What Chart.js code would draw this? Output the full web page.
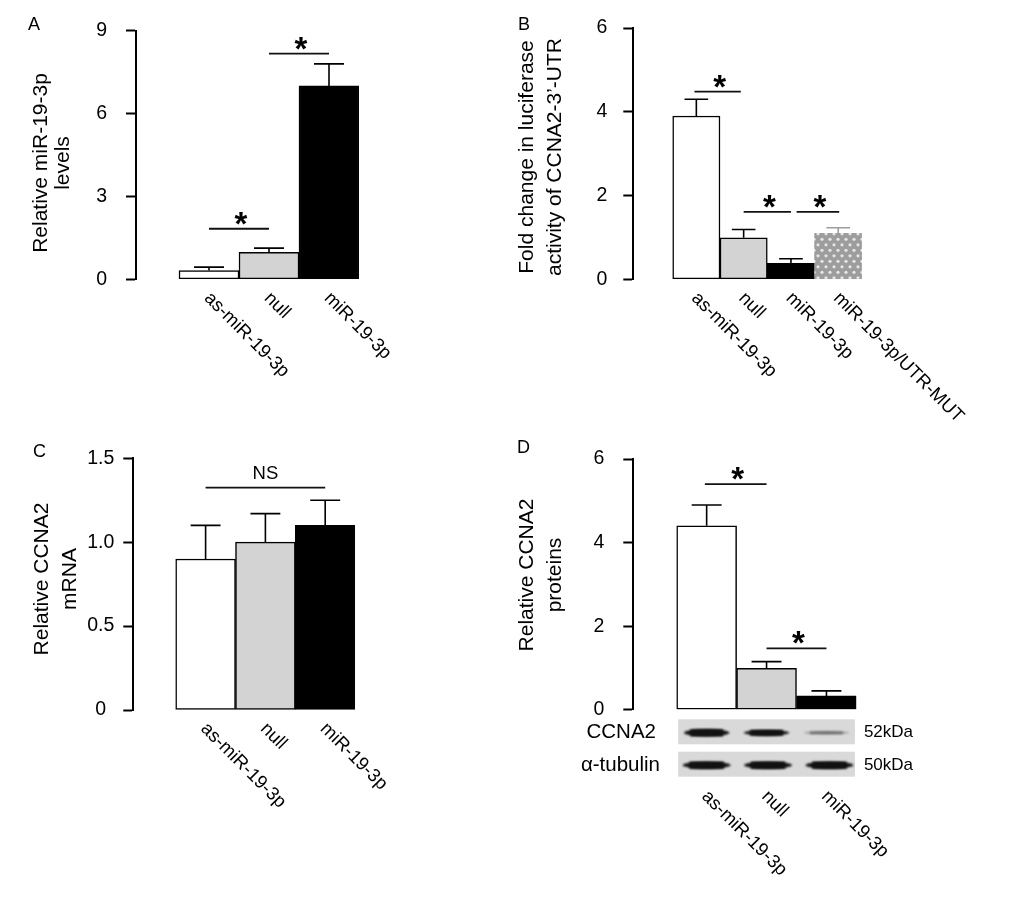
<!DOCTYPE html>
<html>
<head>
<meta charset="utf-8">
<script src="https://cdn.jsdelivr.net/npm/chart.js@4.4.0/dist/chart.umd.min.js"></script>
<style>
  html, body { margin: 0; padding: 0; background: #fff; overflow: hidden; }
  #page { position: relative; width: 1020px; height: 909px; }
  #page canvas { position: absolute; left: 0; top: 0; }
</style>
</head>
<body>
<div id="page"></div>
<script>
/* ================= Data ================= */

const groups3 = ['as-miR-19-3p', 'null', 'miR-19-3p'];
const groups4 = ['as-miR-19-3p', 'null', 'miR-19-3p', 'miR-19-3p/UTR-MUT'];

// A: relative miR-19-3p levels
const mirLevels = [0.32, 0.98, 7.0];
const mirLevelsErr = [0.12, 0.15, 0.8];
const mirTicks = [0, 3, 6, 9];
const mirTickLabels = ['0', '3', '6', '9'];

// B: luciferase activity of CCNA2-3'-UTR
const luciferase = [3.9, 0.99, 0.38, 1.1];
const luciferaseErr = [0.4, 0.2, 0.11, 0.13];
const luciferaseTicks = [0, 2, 4, 6];
const luciferaseTickLabels = ['0', '2', '4', '6'];

// C: relative CCNA2 mRNA
const mrna = [0.9, 1.0, 1.1];
const mrnaErr = [0.2, 0.17, 0.15];
const mrnaTicks = [0, 0.5, 1.0, 1.5];
const mrnaTickLabels = ['0', '0.5', '1.0', '1.5'];

// D: relative CCNA2 proteins
const protein = [4.4, 0.99, 0.33];
const proteinErr = [0.5, 0.16, 0.12];
const proteinTicks = [0, 2, 4, 6];
const proteinTickLabels = ['0', '2', '4', '6'];

// western blot band strength per lane (0..1)
const blotCCNA2 = [1.0, 0.72, 0.1];
const blotTubulin = [1.0, 1.0, 1.0];

// significance marks: [from group, to group, height, text]
const sigA = [[0, 1, 1.83, '*'], [1, 2, 8.17, '*']];
const sigB = [[-0.04, 0.94, 4.48, '*'], [1, 2, 1.61, '*'], [2.12, 3.02, 1.61, '*']];
const sigC = [[0, 2, 1.325, 'NS']];
const sigD = [[-0.03, 1, 5.4, '*'], [1, 2, 1.47, '*']];

/* ================= Helpers ================= */

const FONT = '"Liberation Sans", Arial, Helvetica, sans-serif';
Chart.defaults.font.family = FONT;
Chart.defaults.color = '#000';

const WHITE = '#ffffff', GREY = '#d3d3d3', BLACK = '#000000';

function dotPattern() {
  const tile = document.createElement('canvas');
  tile.width = 8; tile.height = 11;
  const t = tile.getContext('2d');
  t.fillStyle = '#9d9d9d';
  t.fillRect(0, 0, 8, 11);
  t.fillStyle = '#e6e6e6';
  [[2, 2.8], [6, 8.3]].forEach(([cx, cy]) => {
    t.beginPath(); t.arc(cx, cy, 1.6, 0, Math.PI * 2); t.fill();
  });
  return t.createPattern(tile, 'repeat');
}

function extrasPlugin(p) {
  return {
    id: 'extras',
    afterDatasetsDraw(chart) {
      const { ctx, scales: { x, y }, chartArea } = chart;
      const unit = x.getPixelForValue(1) - x.getPixelForValue(0);
      ctx.save();

      // error bars (upper only)
      ctx.lineWidth = 1.6;
      p.values.forEach((v, i) => {
        const cx = x.getPixelForValue(i);
        const y0 = y.getPixelForValue(v);
        const y1 = y.getPixelForValue(v + p.errors[i]);
        ctx.strokeStyle = (p.errColors && p.errColors[i]) || '#000';
        ctx.beginPath();
        ctx.moveTo(cx, y0); ctx.lineTo(cx, y1);
        ctx.moveTo(cx - unit * 0.25, y1); ctx.lineTo(cx + unit * 0.25, y1);
        ctx.stroke();
      });

      // significance lines
      ctx.strokeStyle = '#111';
      ctx.fillStyle = '#000';
      ctx.lineWidth = 1.8;
      p.sig.forEach(([a, b, h, txt]) => {
        const x0 = x.getPixelForValue(a), x1 = x.getPixelForValue(b);
        const yy = y.getPixelForValue(h);
        ctx.beginPath(); ctx.moveTo(x0, yy); ctx.lineTo(x1, yy); ctx.stroke();
        ctx.textAlign = 'center';
        ctx.textBaseline = 'alphabetic';
        if (txt === '*') {
          ctx.font = 'bold 33px ' + FONT;
          ctx.fillText(txt, (x0 + x1) / 2 + 2, yy + 6);
        } else {
          ctx.font = '18.5px ' + FONT;
          ctx.fillText(txt, (x0 + x1) / 2, yy - 8.5);
        }
      });

      // western blot under the bars
      let labelY = chartArea.bottom + 16;
      if (p.blot) {
        const bx0 = x.getPixelForValue(-0.5) + 1.5;
        const bx1 = x.getPixelForValue(p.values.length - 0.5) - 1.5;
        p.blot.forEach((row, r) => {
          const top = chartArea.bottom + 9.6 + r * 32.4;
          ctx.fillStyle = '#d9d9d9';
          ctx.fillRect(bx0, top, bx1 - bx0, 25);
          const mid = top + 13.5;
          ctx.save();
          ctx.filter = 'blur(1px)';
          row.values.forEach((s, i) => {
            const cx = x.getPixelForValue(i) + (r === 1 ? i * 1.5 : 0);
            const w = unit * (r === 1 ? 0.8 : 0.76);
            const h = 2.5 + 4.5 * s;
            ctx.fillStyle = 'rgba(18,18,18,' + Math.min(1, 0.25 + s) + ')';
            ctx.beginPath();
            ctx.ellipse(cx, mid, w / 2, h / 2, 0, 0, Math.PI * 2);
            ctx.fill();
            ctx.fillRect(cx - w * 0.36, mid - h / 2, w * 0.72, h);
          });
          ctx.restore();
          ctx.fillStyle = '#000';
          ctx.textBaseline = 'middle';
          ctx.textAlign = 'right';
          ctx.font = '20.5px ' + FONT;
          ctx.fillText(row.name, row.nameRight, mid);
          ctx.textAlign = 'left';
          ctx.font = '17px ' + FONT;
          ctx.fillText(row.size, bx1 + 9, mid);
          labelY = top + 25 + 17;
        });
      }

      // rotated category labels (clockwise, starting under each bar)
      ctx.fillStyle = '#000';
      ctx.font = '18.5px ' + FONT;
      ctx.textAlign = 'left';
      ctx.textBaseline = 'middle';
      p.labels.forEach((lab, i) => {
        ctx.save();
        ctx.translate(x.getPixelForValue(i) - 2, labelY);
        ctx.rotate(Math.PI / 4);
        ctx.fillText(lab, 0, 0);
        ctx.restore();
      });

      // y axis title
      ctx.font = '21px ' + FONT;
      ctx.textAlign = 'center';
      ctx.textBaseline = 'middle';
      p.title.forEach((line, k) => {
        ctx.save();
        ctx.translate(p.titleX[k], p.titleY);
        ctx.rotate(-Math.PI / 2);
        ctx.fillText(line, 0, 0);
        ctx.restore();
      });

      // panel letter
      ctx.font = '18px ' + FONT;
      ctx.textAlign = 'left';
      ctx.textBaseline = 'alphabetic';
      ctx.fillText(p.letter, p.letterPos[0], p.letterPos[1]);
      ctx.restore();
    }
  };
}

function makePanel(p) {
  const canvas = document.createElement('canvas');
  canvas.width = 1020; canvas.height = 909;
  document.getElementById('page').appendChild(canvas);

  const n = p.values.length;
  const xmin = -0.5 - p.gap / p.unit;
  const xmax = n - 0.5;
  const right = p.axisX + (xmax - xmin) * p.unit;
  const ticks = p.ticks;

  return new Chart(canvas, {
    type: 'bar',
    data: {
      datasets: [{
        data: p.values.map((v, i) => ({ x: i, y: v })),
        backgroundColor: p.colors,
        borderColor: p.borderColors,
        borderWidth: p.borderWidths,
        borderSkipped: false,
        barPercentage: 1,
        categoryPercentage: 1
      }]
    },
    options: {
      responsive: false,
      animation: false,
      events: [],
      layout: {
        padding: { left: p.axisX - 80, right: 1020 - right, top: p.top, bottom: 909 - p.bottom }
      },
      plugins: { legend: { display: false }, tooltip: { enabled: false } },
      scales: {
        x: {
          type: 'linear', display: false, offset: false,
          min: xmin, max: xmax,
          afterBuildTicks: s => { s.ticks = []; }
        },
        y: {
          min: ticks[0], max: ticks[ticks.length - 1],
          afterBuildTicks: s => { s.ticks = ticks.map(v => ({ value: v })); },
          afterFit: s => { s.width = 80; },
          grid: { drawOnChartArea: false, drawTicks: true, tickLength: 10, tickWidth: 2, tickColor: '#000' },
          border: { display: true, color: '#000', width: 2 },
          ticks: {
            color: '#000',
            font: { size: 19.5, family: FONT },
            padding: p.tickPad,
            crossAlign: 'center',
            callback: (v, i) => p.tickLabels[i]
          }
        }
      }
    },
    plugins: [extrasPlugin(p)]
  });
}

/* ================= Panels ================= */

makePanel({
  letter: 'A', letterPos: [28, 30],
  values: mirLevels, errors: mirLevelsErr, labels: groups3, sig: sigA,
  ticks: mirTicks, tickLabels: mirTickLabels, tickPad: 19,
  colors: [WHITE, GREY, BLACK], borderColors: BLACK, borderWidths: 1.5,
  axisX: 136, gap: 43, unit: 60, top: 28, bottom: 279.3,
  title: ['Relative miR-19-3p', 'levels'], titleX: [41.7, 63.3], titleY: 163
});

makePanel({
  letter: 'B', letterPos: [518, 30],
  values: luciferase, errors: luciferaseErr, labels: groups4, sig: sigB,
  ticks: luciferaseTicks, tickLabels: luciferaseTickLabels, tickPad: 16,
  colors: [WHITE, GREY, BLACK, dotPattern()], borderColors: [BLACK, BLACK, BLACK, '#9d9d9d'],
  borderWidths: [1.5, 1.5, 1.5, 0],
  errColors: ['#000', '#000', '#000', '#9d9d9d'],
  axisX: 633.3, gap: 39.4, unit: 47.3, top: 28, bottom: 279.3,
  title: ['Fold change in luciferase', 'activity of CCNA2-3\u2019-UTR'], titleX: [527, 555], titleY: 157
});

makePanel({
  letter: 'C', letterPos: [33, 457],
  values: mrna, errors: mrnaErr, labels: groups3, sig: sigC,
  ticks: mrnaTicks, tickLabels: mrnaTickLabels, tickPad: 9,
  colors: [WHITE, GREY, BLACK], borderColors: BLACK, borderWidths: 1.5,
  axisX: 133.3, gap: 42.4, unit: 59.8, top: 458.3, bottom: 710,
  title: ['Relative CCNA2', 'mRNA'], titleX: [42.5, 70], titleY: 579
});

makePanel({
  letter: 'D', letterPos: [517, 453],
  values: protein, errors: proteinErr, labels: groups3, sig: sigD,
  ticks: proteinTicks, tickLabels: proteinTickLabels, tickPad: 19,
  colors: [WHITE, GREY, BLACK], borderColors: BLACK, borderWidths: 1.5,
  axisX: 633.3, gap: 43.4, unit: 59.9, top: 459, bottom: 709.7,
  title: ['Relative CCNA2', 'proteins'], titleX: [527.5, 555], titleY: 575,
  blot: [
    { name: 'CCNA2', size: '52kDa', nameRight: 656, values: blotCCNA2 },
    { name: '\u03b1-tubulin', size: '50kDa', nameRight: 660, values: blotTubulin }
  ]
});
</script>
</body>
</html>
